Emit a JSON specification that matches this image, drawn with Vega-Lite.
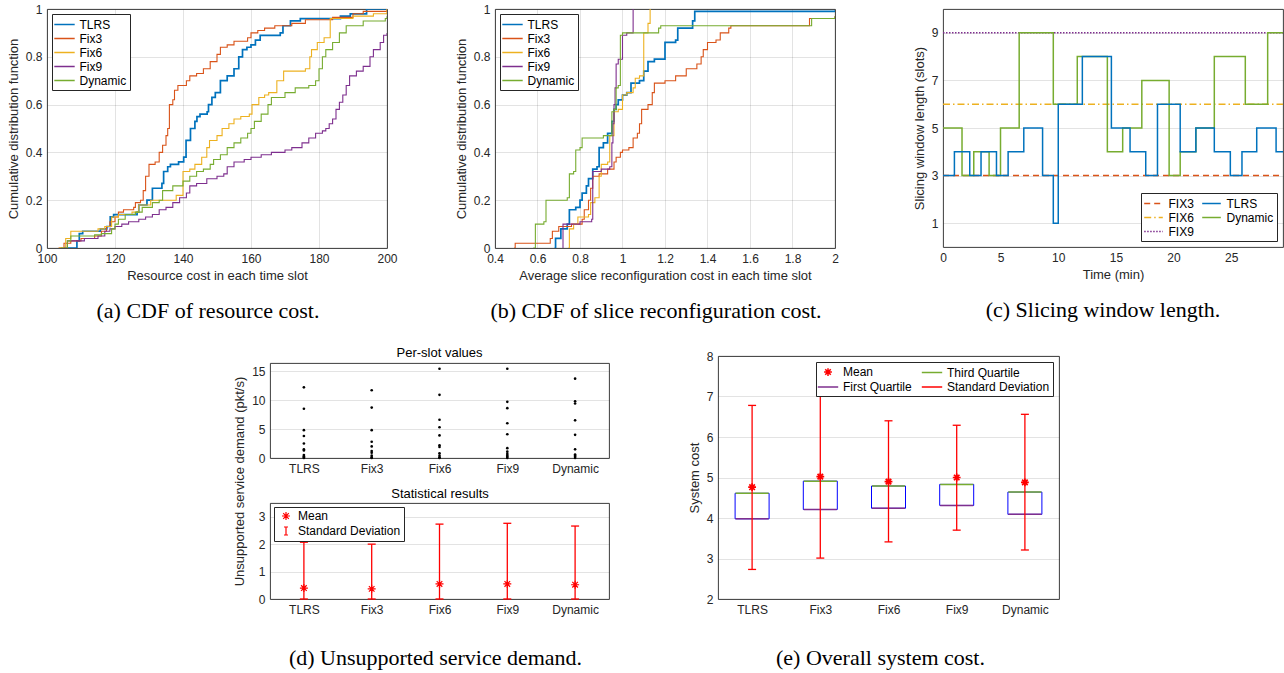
{
  "$schema": "https://vega.github.io/schema/vega-lite/v6.json",
  "padding": {"left": 6, "top": 2, "right": 0, "bottom": 0},
  "background": "white",
  "datasets": {
    "a": [
      {"s":"TLRS","x":105.9,"y":0},{"s":"TLRS","x":108.8,"y":0.03},{"s":"TLRS","x":109.5,"y":0.06},{"s":"TLRS","x":110.5,"y":0.07},{"s":"TLRS","x":115.7,"y":0.08},{"s":"TLRS","x":117.6,"y":0.09},{"s":"TLRS","x":118.6,"y":0.13},{"s":"TLRS","x":119.6,"y":0.14},{"s":"TLRS","x":126.5,"y":0.15},{"s":"TLRS","x":127,"y":0.18},{"s":"TLRS","x":129.4,"y":0.2},{"s":"TLRS","x":131,"y":0.25},{"s":"TLRS","x":133.8,"y":0.27},{"s":"TLRS","x":134.3,"y":0.32},{"s":"TLRS","x":135.5,"y":0.34},{"s":"TLRS","x":136.3,"y":0.35},{"s":"TLRS","x":138.7,"y":0.36},{"s":"TLRS","x":140.2,"y":0.38},{"s":"TLRS","x":140.9,"y":0.45},{"s":"TLRS","x":142.2,"y":0.5},{"s":"TLRS","x":143.5,"y":0.53},{"s":"TLRS","x":144.1,"y":0.55},{"s":"TLRS","x":145,"y":0.56},{"s":"TLRS","x":147.1,"y":0.57},{"s":"TLRS","x":147.5,"y":0.6},{"s":"TLRS","x":148.5,"y":0.63},{"s":"TLRS","x":149.5,"y":0.65},{"s":"TLRS","x":151,"y":0.7},{"s":"TLRS","x":153,"y":0.72},{"s":"TLRS","x":155,"y":0.75},{"s":"TLRS","x":156.4,"y":0.8},{"s":"TLRS","x":157.5,"y":0.83},{"s":"TLRS","x":158.8,"y":0.84},{"s":"TLRS","x":160,"y":0.85},{"s":"TLRS","x":161.3,"y":0.87},{"s":"TLRS","x":162.7,"y":0.89},{"s":"TLRS","x":168.6,"y":0.9},{"s":"TLRS","x":169.4,"y":0.93},{"s":"TLRS","x":171.6,"y":0.95},{"s":"TLRS","x":174.5,"y":0.96},{"s":"TLRS","x":186.3,"y":0.97},{"s":"TLRS","x":189.2,"y":0.98},{"s":"TLRS","x":194,"y":1},{"s":"TLRS","x":200,"y":1},
      {"s":"Fix3","x":103.4,"y":0},{"s":"Fix3","x":105,"y":0.02},{"s":"Fix3","x":107,"y":0.03},{"s":"Fix3","x":110,"y":0.04},{"s":"Fix3","x":114,"y":0.05},{"s":"Fix3","x":116,"y":0.07},{"s":"Fix3","x":117.5,"y":0.09},{"s":"Fix3","x":118.5,"y":0.11},{"s":"Fix3","x":120,"y":0.13},{"s":"Fix3","x":121,"y":0.15},{"s":"Fix3","x":122.5,"y":0.16},{"s":"Fix3","x":125.5,"y":0.17},{"s":"Fix3","x":126,"y":0.19},{"s":"Fix3","x":127.5,"y":0.2},{"s":"Fix3","x":128.3,"y":0.24},{"s":"Fix3","x":129,"y":0.3},{"s":"Fix3","x":130,"y":0.35},{"s":"Fix3","x":131.8,"y":0.36},{"s":"Fix3","x":133,"y":0.4},{"s":"Fix3","x":134,"y":0.43},{"s":"Fix3","x":135,"y":0.47},{"s":"Fix3","x":135.5,"y":0.5},{"s":"Fix3","x":136,"y":0.6},{"s":"Fix3","x":137,"y":0.62},{"s":"Fix3","x":137.5,"y":0.66},{"s":"Fix3","x":138.5,"y":0.68},{"s":"Fix3","x":141,"y":0.7},{"s":"Fix3","x":142,"y":0.72},{"s":"Fix3","x":144,"y":0.73},{"s":"Fix3","x":146,"y":0.75},{"s":"Fix3","x":148,"y":0.78},{"s":"Fix3","x":150,"y":0.81},{"s":"Fix3","x":151,"y":0.84},{"s":"Fix3","x":153,"y":0.85},{"s":"Fix3","x":155,"y":0.865},{"s":"Fix3","x":159,"y":0.88},{"s":"Fix3","x":160,"y":0.9},{"s":"Fix3","x":162,"y":0.91},{"s":"Fix3","x":164,"y":0.92},{"s":"Fix3","x":167,"y":0.93},{"s":"Fix3","x":172,"y":0.94},{"s":"Fix3","x":176,"y":0.955},{"s":"Fix3","x":184,"y":0.965},{"s":"Fix3","x":190,"y":0.98},{"s":"Fix3","x":193,"y":0.99},{"s":"Fix3","x":200,"y":1},
      {"s":"Fix6","x":103.5,"y":0},{"s":"Fix6","x":105.5,"y":0.04},{"s":"Fix6","x":107,"y":0.07},{"s":"Fix6","x":115,"y":0.08},{"s":"Fix6","x":117,"y":0.09},{"s":"Fix6","x":119,"y":0.13},{"s":"Fix6","x":121,"y":0.14},{"s":"Fix6","x":125,"y":0.15},{"s":"Fix6","x":127,"y":0.18},{"s":"Fix6","x":130.5,"y":0.2},{"s":"Fix6","x":138,"y":0.22},{"s":"Fix6","x":140,"y":0.32},{"s":"Fix6","x":142,"y":0.33},{"s":"Fix6","x":143.5,"y":0.35},{"s":"Fix6","x":145.5,"y":0.38},{"s":"Fix6","x":147,"y":0.42},{"s":"Fix6","x":147.8,"y":0.45},{"s":"Fix6","x":150,"y":0.47},{"s":"Fix6","x":151.5,"y":0.5},{"s":"Fix6","x":153.5,"y":0.52},{"s":"Fix6","x":155,"y":0.54},{"s":"Fix6","x":157,"y":0.55},{"s":"Fix6","x":159.5,"y":0.56},{"s":"Fix6","x":160.3,"y":0.6},{"s":"Fix6","x":162.3,"y":0.63},{"s":"Fix6","x":164,"y":0.64},{"s":"Fix6","x":165.2,"y":0.65},{"s":"Fix6","x":167.6,"y":0.7},{"s":"Fix6","x":169.6,"y":0.74},{"s":"Fix6","x":176,"y":0.75},{"s":"Fix6","x":177.3,"y":0.8},{"s":"Fix6","x":177.8,"y":0.83},{"s":"Fix6","x":179.5,"y":0.86},{"s":"Fix6","x":181.5,"y":0.88},{"s":"Fix6","x":183.3,"y":0.96},{"s":"Fix6","x":190,"y":0.97},{"s":"Fix6","x":196,"y":0.98},{"s":"Fix6","x":200,"y":1},
      {"s":"Fix9","x":105,"y":0},{"s":"Fix9","x":106,"y":0.03},{"s":"Fix9","x":111,"y":0.04},{"s":"Fix9","x":115,"y":0.05},{"s":"Fix9","x":117,"y":0.07},{"s":"Fix9","x":118.5,"y":0.08},{"s":"Fix9","x":120,"y":0.09},{"s":"Fix9","x":122,"y":0.1},{"s":"Fix9","x":124,"y":0.11},{"s":"Fix9","x":127,"y":0.12},{"s":"Fix9","x":129,"y":0.13},{"s":"Fix9","x":131,"y":0.14},{"s":"Fix9","x":133,"y":0.16},{"s":"Fix9","x":135,"y":0.17},{"s":"Fix9","x":137,"y":0.19},{"s":"Fix9","x":139,"y":0.21},{"s":"Fix9","x":141,"y":0.23},{"s":"Fix9","x":142,"y":0.26},{"s":"Fix9","x":144,"y":0.27},{"s":"Fix9","x":147,"y":0.29},{"s":"Fix9","x":150,"y":0.3},{"s":"Fix9","x":152,"y":0.31},{"s":"Fix9","x":153,"y":0.34},{"s":"Fix9","x":155,"y":0.36},{"s":"Fix9","x":158,"y":0.37},{"s":"Fix9","x":160,"y":0.38},{"s":"Fix9","x":163,"y":0.39},{"s":"Fix9","x":166,"y":0.4},{"s":"Fix9","x":170,"y":0.41},{"s":"Fix9","x":172,"y":0.42},{"s":"Fix9","x":175,"y":0.44},{"s":"Fix9","x":177,"y":0.46},{"s":"Fix9","x":179,"y":0.48},{"s":"Fix9","x":181,"y":0.49},{"s":"Fix9","x":182,"y":0.5},{"s":"Fix9","x":183,"y":0.52},{"s":"Fix9","x":184,"y":0.54},{"s":"Fix9","x":185,"y":0.58},{"s":"Fix9","x":186,"y":0.61},{"s":"Fix9","x":187,"y":0.64},{"s":"Fix9","x":188,"y":0.68},{"s":"Fix9","x":189,"y":0.72},{"s":"Fix9","x":191,"y":0.74},{"s":"Fix9","x":193,"y":0.76},{"s":"Fix9","x":195,"y":0.8},{"s":"Fix9","x":196,"y":0.83},{"s":"Fix9","x":198,"y":0.86},{"s":"Fix9","x":199,"y":0.89},{"s":"Fix9","x":200,"y":0.9},
      {"s":"Dynamic","x":104,"y":0},{"s":"Dynamic","x":106,"y":0.03},{"s":"Dynamic","x":107,"y":0.05},{"s":"Dynamic","x":114,"y":0.055},{"s":"Dynamic","x":116,"y":0.06},{"s":"Dynamic","x":119,"y":0.08},{"s":"Dynamic","x":120,"y":0.1},{"s":"Dynamic","x":121,"y":0.12},{"s":"Dynamic","x":123,"y":0.14},{"s":"Dynamic","x":126,"y":0.15},{"s":"Dynamic","x":128,"y":0.17},{"s":"Dynamic","x":131,"y":0.19},{"s":"Dynamic","x":133,"y":0.2},{"s":"Dynamic","x":134,"y":0.24},{"s":"Dynamic","x":137,"y":0.26},{"s":"Dynamic","x":140,"y":0.28},{"s":"Dynamic","x":142,"y":0.3},{"s":"Dynamic","x":144,"y":0.32},{"s":"Dynamic","x":146,"y":0.33},{"s":"Dynamic","x":148,"y":0.35},{"s":"Dynamic","x":149,"y":0.37},{"s":"Dynamic","x":151,"y":0.39},{"s":"Dynamic","x":153,"y":0.42},{"s":"Dynamic","x":155,"y":0.44},{"s":"Dynamic","x":157,"y":0.46},{"s":"Dynamic","x":159,"y":0.48},{"s":"Dynamic","x":160,"y":0.5},{"s":"Dynamic","x":161,"y":0.53},{"s":"Dynamic","x":163,"y":0.56},{"s":"Dynamic","x":165,"y":0.6},{"s":"Dynamic","x":166,"y":0.63},{"s":"Dynamic","x":170,"y":0.65},{"s":"Dynamic","x":173,"y":0.67},{"s":"Dynamic","x":177,"y":0.68},{"s":"Dynamic","x":179,"y":0.7},{"s":"Dynamic","x":180,"y":0.75},{"s":"Dynamic","x":181,"y":0.8},{"s":"Dynamic","x":182,"y":0.83},{"s":"Dynamic","x":184,"y":0.86},{"s":"Dynamic","x":186,"y":0.9},{"s":"Dynamic","x":188,"y":0.93},{"s":"Dynamic","x":193,"y":0.95},{"s":"Dynamic","x":199.5,"y":0.96},{"s":"Dynamic","x":200,"y":0.97}
    ],
    "b": [
      {"s":"TLRS","x":0.68,"y":0},{"s":"TLRS","x":0.685,"y":0.04},{"s":"TLRS","x":0.71,"y":0.08},{"s":"TLRS","x":0.74,"y":0.1},{"s":"TLRS","x":0.75,"y":0.16},{"s":"TLRS","x":0.78,"y":0.17},{"s":"TLRS","x":0.8,"y":0.2},{"s":"TLRS","x":0.81,"y":0.23},{"s":"TLRS","x":0.83,"y":0.26},{"s":"TLRS","x":0.84,"y":0.29},{"s":"TLRS","x":0.86,"y":0.33},{"s":"TLRS","x":0.88,"y":0.34},{"s":"TLRS","x":0.89,"y":0.42},{"s":"TLRS","x":0.91,"y":0.44},{"s":"TLRS","x":0.93,"y":0.48},{"s":"TLRS","x":0.95,"y":0.53},{"s":"TLRS","x":0.96,"y":0.58},{"s":"TLRS","x":0.97,"y":0.6},{"s":"TLRS","x":0.98,"y":0.62},{"s":"TLRS","x":1.0,"y":0.64},{"s":"TLRS","x":1.02,"y":0.65},{"s":"TLRS","x":1.04,"y":0.69},{"s":"TLRS","x":1.08,"y":0.7},{"s":"TLRS","x":1.1,"y":0.74},{"s":"TLRS","x":1.12,"y":0.78},{"s":"TLRS","x":1.15,"y":0.79},{"s":"TLRS","x":1.2,"y":0.86},{"s":"TLRS","x":1.25,"y":0.87},{"s":"TLRS","x":1.26,"y":0.92},{"s":"TLRS","x":1.33,"y":0.95},{"s":"TLRS","x":1.34,"y":0.99},{"s":"TLRS","x":2.0,"y":0.995},
      {"s":"Fix3","x":0.49,"y":0},{"s":"Fix3","x":0.495,"y":0.02},{"s":"Fix3","x":0.66,"y":0.04},{"s":"Fix3","x":0.67,"y":0.07},{"s":"Fix3","x":0.7,"y":0.09},{"s":"Fix3","x":0.76,"y":0.1},{"s":"Fix3","x":0.81,"y":0.12},{"s":"Fix3","x":0.82,"y":0.16},{"s":"Fix3","x":0.84,"y":0.2},{"s":"Fix3","x":0.85,"y":0.25},{"s":"Fix3","x":0.86,"y":0.3},{"s":"Fix3","x":0.89,"y":0.31},{"s":"Fix3","x":0.93,"y":0.33},{"s":"Fix3","x":0.96,"y":0.36},{"s":"Fix3","x":0.97,"y":0.38},{"s":"Fix3","x":0.99,"y":0.4},{"s":"Fix3","x":1.0,"y":0.41},{"s":"Fix3","x":1.03,"y":0.42},{"s":"Fix3","x":1.05,"y":0.46},{"s":"Fix3","x":1.07,"y":0.48},{"s":"Fix3","x":1.08,"y":0.52},{"s":"Fix3","x":1.09,"y":0.58},{"s":"Fix3","x":1.12,"y":0.6},{"s":"Fix3","x":1.14,"y":0.65},{"s":"Fix3","x":1.15,"y":0.69},{"s":"Fix3","x":1.2,"y":0.7},{"s":"Fix3","x":1.25,"y":0.72},{"s":"Fix3","x":1.3,"y":0.75},{"s":"Fix3","x":1.35,"y":0.77},{"s":"Fix3","x":1.37,"y":0.8},{"s":"Fix3","x":1.38,"y":0.83},{"s":"Fix3","x":1.4,"y":0.86},{"s":"Fix3","x":1.44,"y":0.87},{"s":"Fix3","x":1.46,"y":0.9},{"s":"Fix3","x":1.5,"y":0.92},{"s":"Fix3","x":1.51,"y":0.93},{"s":"Fix3","x":1.88,"y":0.96},{"s":"Fix3","x":2.0,"y":0.97},
      {"s":"Fix6","x":0.745,"y":0},{"s":"Fix6","x":0.75,"y":0.08},{"s":"Fix6","x":0.77,"y":0.1},{"s":"Fix6","x":0.79,"y":0.13},{"s":"Fix6","x":0.84,"y":0.14},{"s":"Fix6","x":0.85,"y":0.19},{"s":"Fix6","x":0.87,"y":0.21},{"s":"Fix6","x":0.89,"y":0.3},{"s":"Fix6","x":0.9,"y":0.35},{"s":"Fix6","x":0.93,"y":0.36},{"s":"Fix6","x":0.94,"y":0.47},{"s":"Fix6","x":0.96,"y":0.57},{"s":"Fix6","x":0.98,"y":0.58},{"s":"Fix6","x":1.0,"y":0.64},{"s":"Fix6","x":1.02,"y":0.65},{"s":"Fix6","x":1.05,"y":0.67},{"s":"Fix6","x":1.06,"y":0.71},{"s":"Fix6","x":1.08,"y":0.72},{"s":"Fix6","x":1.1,"y":0.9},{"s":"Fix6","x":1.12,"y":0.94},{"s":"Fix6","x":1.13,"y":1},
      {"s":"Fix9","x":0.719,"y":0},{"s":"Fix9","x":0.72,"y":0.1},{"s":"Fix9","x":0.8,"y":0.11},{"s":"Fix9","x":0.855,"y":0.12},{"s":"Fix9","x":0.86,"y":0.32},{"s":"Fix9","x":0.9,"y":0.33},{"s":"Fix9","x":0.94,"y":0.34},{"s":"Fix9","x":0.95,"y":0.44},{"s":"Fix9","x":0.955,"y":0.52},{"s":"Fix9","x":0.96,"y":0.6},{"s":"Fix9","x":0.965,"y":0.67},{"s":"Fix9","x":0.97,"y":0.77},{"s":"Fix9","x":0.98,"y":0.79},{"s":"Fix9","x":1.0,"y":0.89},{"s":"Fix9","x":1.02,"y":0.9},{"s":"Fix9","x":1.05,"y":1},
      {"s":"Dynamic","x":0.58,"y":0},{"s":"Dynamic","x":0.59,"y":0.1},{"s":"Dynamic","x":0.63,"y":0.11},{"s":"Dynamic","x":0.64,"y":0.2},{"s":"Dynamic","x":0.74,"y":0.21},{"s":"Dynamic","x":0.75,"y":0.31},{"s":"Dynamic","x":0.77,"y":0.32},{"s":"Dynamic","x":0.78,"y":0.41},{"s":"Dynamic","x":0.8,"y":0.42},{"s":"Dynamic","x":0.81,"y":0.46},{"s":"Dynamic","x":0.91,"y":0.47},{"s":"Dynamic","x":0.95,"y":0.57},{"s":"Dynamic","x":0.96,"y":0.58},{"s":"Dynamic","x":0.97,"y":0.67},{"s":"Dynamic","x":0.98,"y":0.68},{"s":"Dynamic","x":0.99,"y":0.89},{"s":"Dynamic","x":1.0,"y":0.9},{"s":"Dynamic","x":1.17,"y":0.92},{"s":"Dynamic","x":1.18,"y":0.93},{"s":"Dynamic","x":1.89,"y":0.96},{"s":"Dynamic","x":2.0,"y":0.97}
    ],
    "c": [
      {"s":"FIX3","t":0,"v":3},{"s":"FIX3","t":29.5,"v":3},
      {"s":"FIX6","t":0,"v":6},{"s":"FIX6","t":29.5,"v":6},
      {"s":"FIX9","t":0,"v":9},{"s":"FIX9","t":29.5,"v":9},
      {"s":"Dynamic","t":0,"v":5},{"s":"Dynamic","t":1.65,"v":3},{"s":"Dynamic","t":2.67,"v":4},{"s":"Dynamic","t":4.0,"v":3},{"s":"Dynamic","t":4.99,"v":5},{"s":"Dynamic","t":6.61,"v":9},{"s":"Dynamic","t":9.57,"v":6},{"s":"Dynamic","t":11.65,"v":8},{"s":"Dynamic","t":14.26,"v":4},{"s":"Dynamic","t":15.59,"v":5},{"s":"Dynamic","t":17.25,"v":7},{"s":"Dynamic","t":19.62,"v":3},{"s":"Dynamic","t":20.58,"v":4},{"s":"Dynamic","t":21.94,"v":5},{"s":"Dynamic","t":23.54,"v":8},{"s":"Dynamic","t":26.23,"v":6},{"s":"Dynamic","t":28.17,"v":9},{"s":"Dynamic","t":29.5,"v":9},
      {"s":"TLRS","t":0,"v":3},{"s":"TLRS","t":0.99,"v":4},{"s":"TLRS","t":2.32,"v":3},{"s":"TLRS","t":3.3,"v":4},{"s":"TLRS","t":4.64,"v":3},{"s":"TLRS","t":5.65,"v":4},{"s":"TLRS","t":7.01,"v":5},{"s":"TLRS","t":8.64,"v":3},{"s":"TLRS","t":9.57,"v":1},{"s":"TLRS","t":10.0,"v":6},{"s":"TLRS","t":12.09,"v":8},{"s":"TLRS","t":14.61,"v":5},{"s":"TLRS","t":16.23,"v":4},{"s":"TLRS","t":17.59,"v":3},{"s":"TLRS","t":18.61,"v":6},{"s":"TLRS","t":20.58,"v":4},{"s":"TLRS","t":21.94,"v":5},{"s":"TLRS","t":23.54,"v":4},{"s":"TLRS","t":24.93,"v":3},{"s":"TLRS","t":25.94,"v":4},{"s":"TLRS","t":27.22,"v":5},{"s":"TLRS","t":28.9,"v":4},{"s":"TLRS","t":29.5,"v":4}
    ],
    "d1": [
      {"alg":"TLRS","v":12.2},{"alg":"TLRS","v":8.5},{"alg":"TLRS","v":4.8},{"alg":"TLRS","v":3.8},{"alg":"TLRS","v":2.5},{"alg":"TLRS","v":1.5},{"alg":"TLRS","v":1.3},{"alg":"TLRS","v":0.5},{"alg":"TLRS","v":0.3},{"alg":"TLRS","v":0.1},{"alg":"TLRS","v":0},
      {"alg":"Fix3","v":11.7},{"alg":"Fix3","v":8.7},{"alg":"Fix3","v":4.8},{"alg":"Fix3","v":2.8},{"alg":"Fix3","v":2.0},{"alg":"Fix3","v":1.2},{"alg":"Fix3","v":0.9},{"alg":"Fix3","v":0.4},{"alg":"Fix3","v":0.1},{"alg":"Fix3","v":0},
      {"alg":"Fix6","v":15.4},{"alg":"Fix6","v":10.9},{"alg":"Fix6","v":6.6},{"alg":"Fix6","v":5.3},{"alg":"Fix6","v":3.9},{"alg":"Fix6","v":2.2},{"alg":"Fix6","v":1.9},{"alg":"Fix6","v":0.8},{"alg":"Fix6","v":0.4},{"alg":"Fix6","v":0.1},{"alg":"Fix6","v":0},
      {"alg":"Fix9","v":15.4},{"alg":"Fix9","v":9.7},{"alg":"Fix9","v":8.6},{"alg":"Fix9","v":6.0},{"alg":"Fix9","v":4.1},{"alg":"Fix9","v":1.7},{"alg":"Fix9","v":1.1},{"alg":"Fix9","v":0.7},{"alg":"Fix9","v":0.4},{"alg":"Fix9","v":0.2},{"alg":"Fix9","v":0},
      {"alg":"Dynamic","v":13.7},{"alg":"Dynamic","v":9.8},{"alg":"Dynamic","v":9.4},{"alg":"Dynamic","v":6.5},{"alg":"Dynamic","v":4.0},{"alg":"Dynamic","v":1.5},{"alg":"Dynamic","v":0.6},{"alg":"Dynamic","v":0.4},{"alg":"Dynamic","v":0.2},{"alg":"Dynamic","v":0}
    ],
    "d2": [
      {"alg":"TLRS","mean":0.4,"lo":0,"hi":2.07},
      {"alg":"Fix3","mean":0.37,"lo":0,"hi":2.0},
      {"alg":"Fix6","mean":0.55,"lo":0,"hi":2.73},
      {"alg":"Fix9","mean":0.55,"lo":0,"hi":2.76},
      {"alg":"Dynamic","mean":0.52,"lo":0,"hi":2.66}
    ],
    "e": [
      {"alg":"TLRS","mean":4.76,"q1":3.98,"q3":4.61,"lo":2.73,"hi":6.78},
      {"alg":"Fix3","mean":5.02,"q1":4.21,"q3":4.91,"lo":3.01,"hi":7.02},
      {"alg":"Fix6","mean":4.9,"q1":4.24,"q3":4.79,"lo":3.41,"hi":6.4},
      {"alg":"Fix9","mean":5.0,"q1":4.31,"q3":4.83,"lo":3.7,"hi":6.29},
      {"alg":"Dynamic","mean":4.88,"q1":4.09,"q3":4.64,"lo":3.21,"hi":6.56}
    ]
  },
  "vconcat": [
    {
      "hconcat": [
        {
          "width": 340, "height": 239,
          "title": {"text": "(a) CDF of resource cost.", "orient": "bottom", "frame": "group", "anchor": "middle", "dx": -9, "offset": 19},
          "data": {"name": "a"},
          "mark": {"type": "line", "interpolate": "step-after", "clip": true},
          "encoding": {
            "x": {"field": "x", "type": "quantitative", "scale": {"domain": [100, 200], "nice": false, "zero": false}, "axis": {"title": "Resource cost in each time slot", "values": [100, 120, 140, 160, 180, 200]}},
            "y": {"field": "y", "type": "quantitative", "scale": {"domain": [0, 1], "nice": false}, "axis": {"title": "Cumulative distribution function", "values": [0, 0.2, 0.4, 0.6, 0.8, 1], "format": "~g"}},
            "color": {"field": "s", "type": "nominal", "scale": {"domain": ["TLRS", "Fix3", "Fix6", "Fix9", "Dynamic"], "range": ["#0072BD", "#D95319", "#EDB120", "#7E2F8E", "#77AC30"]}, "legend": {"title": null, "orient": "top-left", "offset": 5}},
            "strokeWidth": {"condition": {"test": "datum.s === 'TLRS'", "value": 1.7}, "value": 1.1}
          }
        },
        {
          "width": 340, "height": 239,
          "title": {"text": "(b) CDF of slice reconfiguration cost.", "orient": "bottom", "frame": "group", "anchor": "middle", "dx": -9, "offset": 19},
          "data": {"name": "b"},
          "mark": {"type": "line", "interpolate": "step-after", "clip": true},
          "encoding": {
            "x": {"field": "x", "type": "quantitative", "scale": {"domain": [0.4, 2], "nice": false, "zero": false}, "axis": {"title": "Average slice reconfiguration cost in each time slot", "values": [0.4, 0.6, 0.8, 1, 1.2, 1.4, 1.6, 1.8, 2], "format": "~g"}},
            "y": {"field": "y", "type": "quantitative", "scale": {"domain": [0, 1], "nice": false}, "axis": {"title": "Cumulative distribution function", "values": [0, 0.2, 0.4, 0.6, 0.8, 1], "format": "~g"}},
            "color": {"field": "s", "type": "nominal", "scale": {"domain": ["TLRS", "Fix3", "Fix6", "Fix9", "Dynamic"], "range": ["#0072BD", "#D95319", "#EDB120", "#7E2F8E", "#77AC30"]}, "legend": {"title": null, "orient": "top-left", "offset": 5}},
            "strokeWidth": {"condition": {"test": "datum.s === 'TLRS'", "value": 1.7}, "value": 1.1}
          }
        },
        {
          "width": 340, "height": 238,
          "title": {"text": "(c) Slicing window length.", "orient": "bottom", "frame": "group", "anchor": "middle", "dx": -10, "offset": 19},
          "data": {"name": "c"},
          "mark": {"type": "line", "interpolate": "step-after", "strokeWidth": 1.5, "clip": true},
          "encoding": {
            "x": {"field": "t", "type": "quantitative", "scale": {"domain": [0, 29.5], "nice": false, "zero": false}, "axis": {"title": "Time (min)", "values": [0, 5, 10, 15, 20, 25], "grid": false}},
            "y": {"field": "v", "type": "quantitative", "scale": {"domain": [0, 10], "nice": false}, "axis": {"title": "Slicing window length (slots)", "values": [1, 3, 5, 7, 9]}},
            "color": {"field": "s", "type": "nominal", "scale": {"domain": ["FIX3", "FIX6", "FIX9", "TLRS", "Dynamic"], "range": ["#D95319", "#EDB120", "#7E2F8E", "#0072BD", "#77AC30"]}, "legend": {"title": null, "orient": "bottom-right", "offset": 6, "columns": 2, "columnPadding": 4, "symbolType": "M-1.55,0L1.55,0"}},
            "strokeDash": {"field": "s", "type": "nominal", "scale": {"domain": ["FIX3", "FIX6", "FIX9", "TLRS", "Dynamic"], "range": [[6, 4], [7, 3, 1.5, 3], [1.5, 1.5], [1, 0], [1, 0]]}, "legend": {"title": null, "orient": "bottom-right", "offset": 6, "columns": 2, "columnPadding": 4, "symbolType": "M-1.55,0L1.55,0"}},
            "order": {"field": "t", "type": "quantitative"}
          }
        }
      ],
      "spacing": 108,
      "bounds": "flush",
      "resolve": {"scale": {"color": "independent", "strokeDash": "independent", "shape": "independent"}, "legend": {"color": "independent", "strokeDash": "independent", "shape": "independent"}}
    },
    {
      "hconcat": [
        {
          "data": {"values": [{"k": 0}]},
          "mark": {"type": "text", "text": ""},
          "width": 222, "height": 1,
          "view": {"stroke": null}
        },
        {
          "hconcat": [
            {
              "vconcat": [
                {
                  "data": {"values": [{"k": 0}]},
                  "mark": {"type": "text", "text": ""},
                  "width": 1, "height": 1,
                  "view": {"stroke": null}
                },
                {
                  "vconcat": [
                    {
                      "width": 339, "height": 95,
                      "title": {"text": "Per-slot values", "font": "Liberation Sans", "fontSize": 13, "color": "#000000", "offset": 3, "frame": "group", "anchor": "middle"},
                      "data": {"name": "d1"},
                      "mark": {"type": "circle", "size": 7, "color": "#000000", "opacity": 1},
                      "encoding": {
                        "x": {"field": "alg", "type": "nominal", "sort": null, "scale": {"type": "point", "padding": 0.5, "domain": ["TLRS", "Fix3", "Fix6", "Fix9", "Dynamic"]}, "axis": {"title": null, "labelAngle": 0, "grid": false}},
                        "y": {"field": "v", "type": "quantitative", "scale": {"domain": [0, 16.4], "nice": false}, "axis": {"values": [0, 5, 10, 15], "title": "Unsupported service demand (pkt/s)", "titleY": 118}}
                      }
                    },
                    {
                      "width": 339, "height": 96,
                      "title": {"text": "(d) Unsupported service demand.", "orient": "bottom", "frame": "group", "anchor": "middle", "dx": -4, "offset": 33},
                      "data": {"name": "d2"},
                      "encoding": {
                        "x": {"field": "alg", "type": "nominal", "sort": null, "scale": {"type": "point", "padding": 0.5, "domain": ["TLRS", "Fix3", "Fix6", "Fix9", "Dynamic"]}, "axis": null}
                      },
                      "layer": [
                        {
                          "mark": {"type": "rule", "color": "#FF0000", "strokeWidth": 1.3},
                          "encoding": {
                            "x": {"field": "alg", "type": "nominal", "sort": null, "axis": {"title": null, "labelAngle": 0, "grid": false}},
                            "y": {"field": "lo", "type": "quantitative", "scale": {"domain": [0, 3.5], "nice": false}, "axis": {"values": [0, 1, 2, 3], "title": null, "labelOverlap": false}},
                            "y2": {"field": "hi"}
                          }
                        },
                        {
                          "mark": {"type": "tick", "color": "#FF0000", "size": 8, "thickness": 1.3, "opacity": 1},
                          "encoding": {"y": {"field": "lo", "type": "quantitative", "axis": {"values": [0, 1, 2, 3], "title": null, "labelOverlap": false}}}
                        },
                        {
                          "mark": {"type": "tick", "color": "#FF0000", "size": 8, "thickness": 1.3, "opacity": 1},
                          "encoding": {"y": {"field": "hi", "type": "quantitative", "axis": {"values": [0, 1, 2, 3], "title": null, "labelOverlap": false}}}
                        },
                        {
                          "mark": {"type": "point", "filled": false, "color": "#FF0000", "strokeWidth": 1.2, "size": 64, "opacity": 1},
                          "encoding": {
                            "x": {"field": "alg", "type": "nominal", "sort": null, "axis": {"orient": "top", "labels": false, "grid": false, "title": "Statistical results", "titleFontSize": 13, "titleColor": "#000000", "titlePadding": 3}},
                            "y": {"field": "mean", "type": "quantitative", "axis": {"values": [0, 1, 2, 3], "title": null, "labelOverlap": false}},
                            "shape": {"datum": "Mean", "scale": {"domain": ["Mean", "Standard Deviation"], "range": ["M-1,0L1,0M0,-1L0,1M-0.7,-0.7L0.7,0.7M-0.7,0.7L0.7,-0.7", "M-0.5,-1L0.5,-1M0,-1L0,1M-0.5,1L0.5,1"]}, "legend": {"title": null, "orient": "top-left", "offset": 4, "padding": 3, "symbolSize": 64, "symbolOffset": 3, "labelOffset": 6, "symbolStrokeColor": "#FF0000", "symbolFillColor": "transparent", "symbolStrokeWidth": 1.2, "rowPadding": 1}}
                          }
                        }
                      ],
                      "resolve": {"axis": {"x": "independent"}}
                    }
                  ],
                  "spacing": 45,
                  "bounds": "flush",
                  "resolve": {"scale": {"shape": "independent"}, "legend": {"shape": "independent"}}
                }
              ],
              "spacing": 6,
              "bounds": "flush",
              "resolve": {"scale": {"shape": "independent"}, "legend": {"shape": "independent"}}
            },
            {
              "width": 341, "height": 243,
              "title": {"text": "(e) Overall system cost.", "orient": "bottom", "frame": "group", "anchor": "middle", "dx": -8, "offset": 33},
              "data": {"name": "e"},
              "encoding": {
                "x": {"field": "alg", "type": "nominal", "sort": null, "scale": {"type": "point", "padding": 0.5, "domain": ["TLRS", "Fix3", "Fix6", "Fix9", "Dynamic"]}, "axis": {"title": null, "labelAngle": 0, "grid": false}}
              },
              "layer": [
                {
                  "mark": {"type": "bar", "width": 34, "fill": "#ffffff", "fillOpacity": 0, "stroke": "#0000FF", "strokeWidth": 1},
                  "encoding": {
                    "y": {"field": "q1", "type": "quantitative", "scale": {"domain": [2, 8], "nice": false, "zero": false}, "axis": {"values": [2, 3, 4, 5, 6, 7, 8], "title": "System cost"}},
                    "y2": {"field": "q3"}
                  }
                },
                {
                  "mark": {"type": "tick", "color": "#7E2F8E", "size": 33, "thickness": 1.5, "opacity": 1},
                  "encoding": {"y": {"field": "q1", "type": "quantitative"}}
                },
                {
                  "mark": {"type": "tick", "color": "#77AC30", "size": 33, "thickness": 1.5, "opacity": 1},
                  "encoding": {"y": {"field": "q3", "type": "quantitative"}}
                },
                {
                  "mark": {"type": "rule", "color": "#FF0000", "strokeWidth": 1.3},
                  "encoding": {"y": {"field": "lo", "type": "quantitative"}, "y2": {"field": "hi"}}
                },
                {
                  "mark": {"type": "tick", "color": "#FF0000", "size": 8, "thickness": 1.3, "opacity": 1},
                  "encoding": {"y": {"field": "lo", "type": "quantitative"}}
                },
                {
                  "mark": {"type": "tick", "color": "#FF0000", "size": 8, "thickness": 1.3, "opacity": 1},
                  "encoding": {"y": {"field": "hi", "type": "quantitative"}}
                },
                {
                  "mark": {"type": "point", "filled": false, "strokeWidth": 1.7, "size": 144, "opacity": 1},
                  "encoding": {
                    "y": {"field": "mean", "type": "quantitative"},
                    "color": {"datum": "Mean", "scale": {"domain": ["Mean", "First Quartile", "Third Quartile", "Standard Deviation"], "range": ["#FF0000", "#7E2F8E", "#77AC30", "#FF0000"]}, "legend": {"title": null, "orient": "top-right", "offset": 6, "columns": 2, "columnPadding": 6, "padding": 3, "rowPadding": 1, "symbolStrokeWidth": 1.5}},
                    "shape": {"datum": "Mean", "scale": {"domain": ["Mean", "First Quartile", "Third Quartile", "Standard Deviation"], "range": ["M-0.65,0L0.65,0M0,-0.65L0,0.65M-0.46,-0.46L0.46,0.46M-0.46,0.46L0.46,-0.46", "M-1.7,0L1.7,0", "M-1.7,0L1.7,0", "M-1.7,0L1.7,0"]}, "legend": {"title": null, "orient": "top-right", "offset": 6, "columns": 2, "columnPadding": 6, "padding": 3, "rowPadding": 1, "symbolStrokeWidth": 1.5}}
                  }
                }
              ]
            }
          ],
          "spacing": 448,
          "bounds": "flush",
          "resolve": {"scale": {"color": "independent", "shape": "independent"}, "legend": {"color": "independent", "shape": "independent"}}
        }
      ],
      "spacing": 1,
      "bounds": "flush",
      "resolve": {"scale": {"color": "independent", "shape": "independent"}, "legend": {"color": "independent", "shape": "independent"}}
    }
  ],
  "spacing": 347,
  "bounds": "flush",
  "resolve": {"scale": {"color": "independent", "strokeDash": "independent", "shape": "independent"}, "legend": {"color": "independent", "strokeDash": "independent", "shape": "independent"}},
  "config": {
    "font": "Liberation Sans",
    "view": {"stroke": "#262626", "strokeWidth": 0.9},
    "axis": {"domain": false, "ticks": false, "labelFontSize": 12, "labelColor": "#262626", "labelFlush": false, "labelOverlap": false, "labelPadding": 5, "titlePadding": 5, "titleFontSize": 13, "titleFontWeight": "normal", "titleColor": "#262626", "gridColor": "#262626", "gridOpacity": 0.13},
    "legend": {"labelFontSize": 12, "labelColor": "#000000", "strokeColor": "#262626", "fillColor": "#ffffff", "padding": 3.5, "rowPadding": 1, "symbolType": "M-1.7,0L1.7,0", "symbolSize": 144, "symbolStrokeWidth": 1.5, "symbolOffset": 2, "labelOffset": 8, "labelLimit": 300},
    "title": {"font": "Liberation Serif", "fontSize": 22, "fontWeight": "normal", "color": "#000000"}
  }
}
